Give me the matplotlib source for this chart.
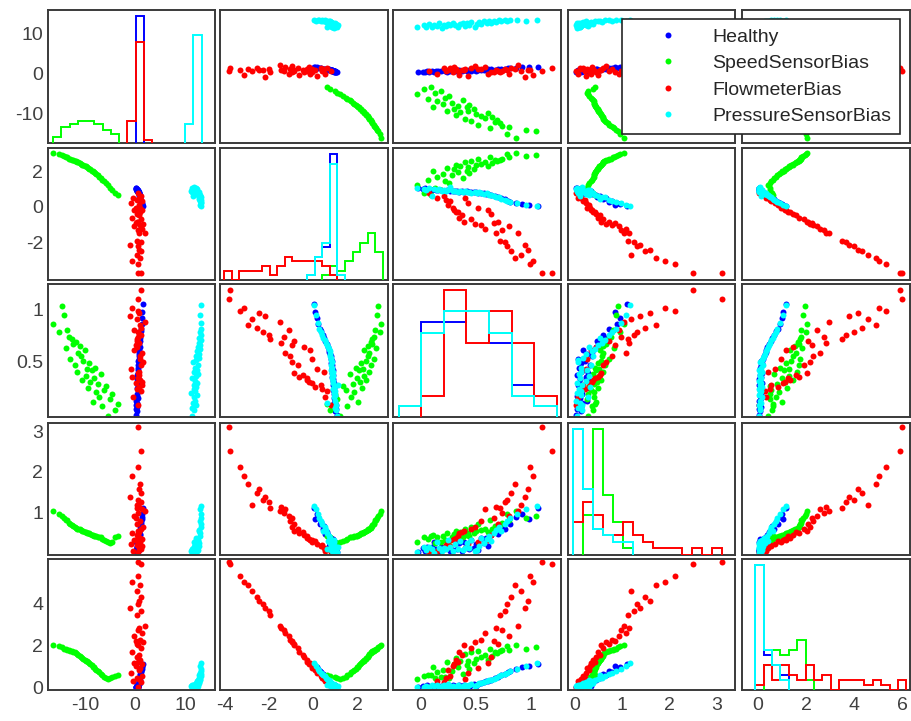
import numpy as np
import matplotlib
matplotlib.use("Agg")
import matplotlib.pyplot as plt
from matplotlib.lines import Line2D

plt.rcParams['font.family'] = ['Liberation Sans', 'DejaVu Sans']
plt.rcParams['axes.unicode_minus'] = False

group_names = ["Healthy", "SpeedSensorBias", "FlowmeterBias", "PressureSensorBias"]
group_colors = ["#0000ff", "#00ff00", "#ff0000", "#00ffff"]

# ---------------- Healthy ----------------
h_v1 = [0.25,0.35,0.22,0.41,0.30,0.46,0.28,0.52,0.38,0.44,0.55,0.33,0.61,0.48,0.57,0.50,0.66,0.42,0.70,0.58,
        0.64,0.53,0.75,0.62,0.79,0.71,0.83,0.77,0.88,0.92,0.85,1.02,1.10,1.05,1.21,1.28,1.35,1.42,1.50,1.62]
h_v2 = [1.08,1.02,1.06,0.98,1.03,0.97,1.01,0.95,0.99,0.96,0.93,0.97,0.91,0.94,0.90,0.92,0.88,0.91,0.86,0.89,
        0.85,0.87,0.83,0.85,0.81,0.80,0.78,0.75,0.72,0.68,0.63,0.57,0.50,0.44,0.37,0.31,0.24,0.17,0.11,0.06]
h_v3 = [-0.02,0.02,0.04,0.06,0.08,0.10,0.12,0.14,0.16,0.18,0.22,0.24,0.27,0.29,0.31,0.33,0.35,0.37,0.39,0.42,
        0.44,0.46,0.48,0.50,0.52,0.55,0.57,0.59,0.61,0.64,0.67,0.70,0.73,0.76,0.79,0.81,0.86,0.92,0.98,1.06]
h_v4 = [0.02,0.12,0.05,0.135,0.08,0.15,0.26,0.10,0.03,0.155,0.14,0.30,0.06,0.085,0.34,0.11,0.24,0.04,0.28,0.16,
        0.09,0.32,0.13,0.21,0.07,0.36,0.25,0.365,0.165,0.44,0.52,0.47,0.66,0.58,0.77,0.71,0.88,0.95,0.84,1.10]
h_v5 = [0.03,0.08,0.02,0.12,0.05,0.10,0.04,0.14,0.07,0.11,0.06,0.13,0.03,0.16,0.09,0.05,0.12,0.08,0.15,0.10,
        0.06,0.14,0.18,0.11,0.20,0.24,0.27,0.31,0.35,0.38,0.45,0.52,0.60,0.68,0.75,0.82,0.90,0.98,1.05,1.16]

# ---------------- SpeedSensorBias ----------------
s_v1 = [-16.3,-15.2,-14.6,-14.2,-13.8,-13.5,-13.2,-12.9,-12.6,-12.3,-12.0,-11.8,-11.5,-11.3,-11.0,-10.8,-10.5,-10.3,-10.0,-9.8,
        -9.6,-9.4,-9.1,-8.9,-8.6,-8.4,-8.2,-8.0,-7.7,-7.4,-7.1,-6.8,-6.5,-6.2,-5.8,-5.3,-4.9,-4.5,-3.9,-3.4]
s_v2 = [3.10,3.03,2.95,2.92,2.85,2.83,2.77,2.75,2.69,2.67,2.61,2.61,2.55,2.55,2.49,2.48,2.41,2.40,2.33,2.32,
        2.26,2.24,2.17,2.15,2.07,2.05,1.98,1.96,1.87,1.82,1.72,1.66,1.56,1.50,1.37,1.23,1.08,0.98,0.79,0.66]
s_v3 = [0.86,0.78,1.04,0.95,0.63,0.80,0.74,0.52,0.72,0.67,0.46,0.69,0.40,0.58,0.65,0.55,0.32,0.50,0.61,0.36,
        0.43,0.24,0.48,0.30,0.42,0.11,0.34,0.44,0.20,0.28,0.15,0.38,0.07,0.22,0.26,-0.03,0.13,0.18,0.03,0.09]
s_v4 = [1.03,0.95,0.90,0.86,0.82,0.81,0.75,0.72,0.69,0.66,0.64,0.62,0.60,0.60,0.595,0.56,0.55,0.54,0.52,0.51,
        0.50,0.49,0.48,0.47,0.45,0.44,0.43,0.42,0.41,0.40,0.39,0.385,0.35,0.33,0.30,0.27,0.25,0.28,0.385,0.42]
s_v5 = [2.05,1.98,1.94,1.87,1.85,1.80,1.79,1.76,1.75,1.71,1.69,1.65,1.62,1.57,1.53,1.47,1.44,1.38,1.35,1.30,
        1.27,1.21,1.18,1.12,1.07,1.00,0.98,0.92,0.87,0.79,0.74,0.66,0.62,0.54,0.48,0.43,0.49,0.51,0.59,0.62]

# ---------------- FlowmeterBias ----------------
f_v1 = [0.62,1.15,-0.35,0.88,0.41,1.32,-0.82,0.73,0.95,0.26,1.48,-0.15,0.57,1.05,0.34,0.81,-0.55,1.22,0.67,0.48,
        1.64,0.19,0.92,-0.28,1.38,0.55,0.76,1.95,0.31,1.11,-1.05,0.64,0.85,1.27,0.43,0.99,-0.62,0.70,1.18,0.52]
f_v2 = [0.82,0.64,0.53,0.50,0.40,0.37,0.20,0.12,-0.03,-0.05,-0.16,-0.15,-0.26,-0.28,-0.40,-0.45,-0.61,-0.69,-0.83,-0.84,
        -0.95,-0.94,-1.05,-1.10,-1.27,-1.32,-1.46,-1.50,-1.93,-2.00,-2.17,-2.25,-2.44,-2.53,-2.77,-2.94,-3.11,-3.28,-3.76,-3.79]
f_v3 = [0.08,0.21,0.15,0.40,0.23,0.27,0.43,0.25,0.52,0.29,0.30,0.61,0.34,0.32,0.64,0.37,0.35,0.46,0.39,0.70,
        0.49,0.66,0.55,0.80,0.58,0.74,0.68,0.88,0.72,0.76,0.94,0.78,0.97,0.82,0.91,0.85,1.02,0.99,1.19,1.10]
f_v4 = [0.02,0.10,0.06,0.13,0.20,0.16,0.23,0.29,0.26,0.31,0.35,0.33,0.42,0.37,0.45,0.52,0.48,0.58,0.55,0.72,
        0.65,0.85,0.78,0.92,1.08,0.98,1.14,1.04,1.11,1.25,1.37,1.30,1.58,1.47,1.18,1.70,1.90,2.12,2.50,3.10]
f_v5 = [0.05,0.28,0.35,0.42,0.48,0.55,0.70,0.85,0.97,1.05,1.12,1.18,1.25,1.35,1.45,1.58,1.72,1.90,2.02,2.10,
        2.17,2.24,2.30,2.45,2.60,2.75,2.85,2.97,3.48,3.65,3.80,3.98,4.15,4.35,4.60,4.90,5.05,5.35,5.90,6.00]

# ---------------- PressureSensorBias ----------------
p_v1 = [11.5,11.9,11.4,12.2,11.6,12.0,11.8,12.4,11.3,12.1,11.75,12.3,11.9,12.5,12.0,11.5,12.2,12.6,11.8,12.4,
        12.1,12.7,11.6,12.3,12.8,12.2,12.9,12.5,13.0,12.6,13.1,12.8,13.2,12.9,13.3,13.0,13.25,13.2,13.1,13.3]
p_v2 = [1.10,1.04,0.99,1.07,0.62,1.00,0.96,1.02,0.94,0.98,0.92,0.95,1.12,0.90,0.93,0.88,0.91,0.86,0.89,0.84,
        0.87,0.82,0.85,0.80,0.83,0.78,0.76,0.79,0.71,0.68,0.64,0.59,0.55,0.48,0.42,0.36,0.30,0.22,0.14,0.05]
p_v3 = [-0.03,0.03,0.05,0.08,0.10,0.12,0.15,0.17,0.19,0.21,0.23,0.25,0.27,0.29,0.31,0.34,0.36,0.38,0.40,0.42,
        0.44,0.46,0.49,0.51,0.53,0.55,0.57,0.60,0.615,0.64,0.66,0.68,0.71,0.73,0.76,0.78,0.81,0.87,0.95,1.05]
p_v4 = [0.03,0.14,0.07,0.145,0.10,0.01,0.27,0.12,0.05,0.125,0.09,0.31,0.15,0.04,0.23,0.11,0.29,0.08,0.115,0.25,
        0.13,0.33,0.06,0.065,0.16,0.37,0.24,0.35,0.42,0.30,0.49,0.56,0.63,0.53,0.72,0.78,0.86,0.97,1.08,1.16]
p_v5 = [0.02,0.06,0.10,0.03,0.13,0.07,0.15,0.04,0.09,0.12,0.05,0.17,0.08,0.11,0.02,0.14,0.06,0.10,0.16,0.04,
        0.12,0.19,0.08,0.15,0.21,0.25,0.28,0.33,0.36,0.40,0.44,0.49,0.55,0.61,0.67,0.73,0.80,0.92,1.02,1.18]

# tick values / labels
col_ticks = [[-10, 0, 10], [-4, -2, 0, 2], [0, 0.5, 1], [0, 1, 2, 3], [0, 2, 4, 6]]
col_ticklabels = [["-10", "0", "10"], ["-4", "-2", "0", "2"], ["0", "0.5", "1"], ["0", "1", "2", "3"], ["0", "2", "4", "6"]]
row_ticks = [[-10, 0, 10], [-2, 0, 2], [0.5, 1], [1, 2, 3], [0, 2, 4]]
row_ticklabels = [["-10", "0", "10"], ["-2", "0", "2"], ["0.5", "1"], ["1", "2", "3"], ["0", "2", "4"]]

groups = [
    [h_v1, h_v2, h_v3, h_v4, h_v5],
    [s_v1, s_v2, s_v3, s_v4, s_v5],
    [f_v1, f_v2, f_v3, f_v4, f_v5],
    [p_v1, p_v2, p_v3, p_v4, p_v5],
]

# ---------------- layout ----------------
W, H = 912, 721
fig = plt.figure(figsize=(W / 100, H / 100), dpi=100)
fig.patch.set_facecolor("white")

col_left = [48, 220, 393, 568, 742]
col_w = [167, 168, 168, 167, 168]
row_top = [10, 148, 284, 423, 559]
row_h = [133, 132, 133, 132, 131]

xlims = [(-17.4, 16.0), (-4.2, 3.4), (-0.25, 1.27), (-0.15, 3.38), (-0.67, 6.33)]
ylims = [(-17.5, 15.75), (-4.17, 3.37), (-0.04, 1.25), (-0.05, 3.2), (-0.1, 6.14)]

hist_edges = [
    -16.35 + 1.65 * np.arange(21),
    -4.0 + 0.341 * np.arange(22),
    np.array([-0.2, 0.005, 0.21, 0.415, 0.62, 0.825, 1.03, 1.235]),
    -0.04 + 0.21 * np.arange(17),
    -0.12 + 0.35 * np.arange(19),
]

spine_color = "#3a3a3a"
text_color = "#404040"

for i in range(5):
    for j in range(5):
        ax = fig.add_axes([col_left[j] / W, 1 - (row_top[i] + row_h[i]) / H, col_w[j] / W, row_h[i] / H])
        ax.set_xlim(*xlims[j])
        ax.set_ylim(*ylims[i])
        for s in ax.spines.values():
            s.set_color(spine_color)
            s.set_linewidth(1.4)
        ax.set_xticks(col_ticks[j])
        ax.set_xticklabels(col_ticklabels[j])
        ax.set_yticks(row_ticks[i])
        ax.set_yticklabels(row_ticklabels[i])
        ax.tick_params(axis="both", length=0, labelsize=14, colors=text_color)
        ax.tick_params(axis="x", pad=5)
        ax.tick_params(axis="y", pad=3.5)
        ax.tick_params(labelbottom=(i == 4), labelleft=(j == 0))
        if i == j:
            hax = ax.twinx()
            hax.set_xlim(*xlims[j])
            counts_all = []
            for g in range(4):
                c, _ = np.histogram(groups[g][j], bins=hist_edges[j])
                counts_all.append(c)
            top = max(c.max() for c in counts_all) * 1.05
            hax.set_ylim(0, top)
            for g in range(4):
                c = counts_all[g]
                nz = np.nonzero(c)[0]
                i0, i1 = nz[0], nz[-1]
                hax.stairs(c[i0:i1 + 1], hist_edges[j][i0:i1 + 2], baseline=0,
                           color=group_colors[g], linewidth=1.4)
            hax.set_yticks([])
            for s in hax.spines.values():
                s.set_visible(False)
        else:
            for g in range(4):
                ax.plot(groups[g][j], groups[g][i], linestyle="none", marker="o", markersize=4.3,
                        markeredgewidth=0, color=group_colors[g])

handles = [Line2D([], [], linestyle="none", marker="o", markersize=4.3, markeredgewidth=0, color=c)
           for c in group_colors]
leg = fig.legend(handles, group_names, loc="upper right", bbox_to_anchor=(900 / W, 1 - 19 / H),
                 frameon=True, fancybox=False, framealpha=1, edgecolor="#262626", fontsize=14,
                 handlelength=3.8, handletextpad=0.37, labelspacing=0.46, borderpad=0.46, borderaxespad=0)
leg.get_frame().set_linewidth(1.2)
for t in leg.get_texts():
    t.set_color("#262626")

fig.savefig("out.png", dpi=100)
